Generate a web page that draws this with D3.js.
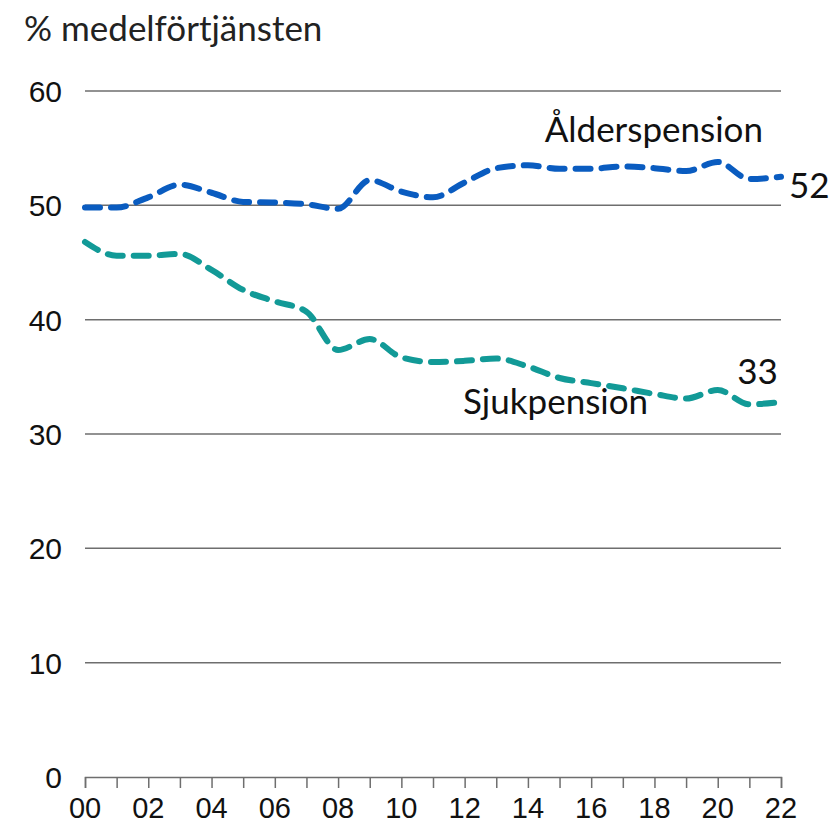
<!DOCTYPE html>
<html>
<head>
<meta charset="utf-8">
<script src="https://cdn.jsdelivr.net/npm/d3@7"></script>
<style>
  body { margin: 0; background: #fff; }
  svg { display: block; }
</style>
</head>
<body>
<svg id="chart" width="831" height="832"></svg>
<script>
const years = d3.range(2000, 2023);
const alder = [49.8, 49.8, 50.7, 51.8, 51.1, 50.3, 50.25, 50.1, 49.7, 52.2, 51.2, 50.7, 52.0, 53.25, 53.5, 53.2, 53.2, 53.4, 53.25, 53.0, 53.8, 52.3, 52.5];
const sjuk = [46.8, 45.6, 45.6, 45.75, 44.35, 42.6, 41.6, 40.7, 37.35, 38.3, 36.7, 36.3, 36.4, 36.6, 35.9, 34.9, 34.45, 34.0, 33.5, 33.1, 33.85, 32.6, 32.8];
const endLabels = ['52', '33'];
const seriesNames = ['Ålderspension', 'Sjukpension'];
const yTicks = [0, 10, 20, 30, 40, 50, 60];
const xLabelYears = d3.range(2000, 2023, 2);

const svg = d3.select('#chart');
const margin = { top: 91, right: 50, bottom: 55, left: 85 };
const width = 831, height = 832;
const innerWidth = width - margin.left - margin.right;
const innerHeight = height - margin.top - margin.bottom;

const x = d3.scaleLinear().domain([2000, 2022]).range([0, innerWidth]);
const y = d3.scaleLinear().domain([0, 60]).range([innerHeight, 0]);

const g = svg.append('g').attr('transform', `translate(${margin.left},${margin.top})`);

// title
svg.append('text')
  .attr('x', 24).attr('y', 41)
  .attr('font-family', 'Lato, sans-serif')
  .attr('font-size', 35)
  .attr('fill', '#222')
  .text('% medelförtjänsten');

// gridlines
g.selectAll('.grid')
  .data(yTicks.filter(d => d > 0))
  .enter().append('line')
  .attr('x1', 0).attr('x2', innerWidth)
  .attr('y1', d => y(d)).attr('y2', d => y(d))
  .attr('stroke', '#6e6e6e').attr('stroke-width', 1.5);

// y labels
g.selectAll('.ylab')
  .data(yTicks)
  .enter().append('text')
  .attr('x', -23).attr('y', d => y(d) + 11)
  .attr('text-anchor', 'end')
  .attr('font-family', 'Liberation Sans, Arial, sans-serif')
  .attr('font-size', 30)
  .attr('fill', '#111')
  .text(d => d);

// x axis (tick marks every year, labels every other year)
const xAxis = g.append('g')
  .attr('transform', `translate(0,${innerHeight})`)
  .call(d3.axisBottom(x).tickValues(years).tickSize(11).tickFormat(''));
xAxis.selectAll('.tick text').remove();
xAxis.select('.domain').attr('stroke', '#6e6e6e').attr('stroke-width', 1.5);
xAxis.selectAll('.tick line').attr('stroke', '#6e6e6e').attr('stroke-width', 1.5);

g.selectAll('.xlab')
  .data(xLabelYears)
  .enter().append('text')
  .attr('x', d => x(d)).attr('y', innerHeight + 41)
  .attr('text-anchor', 'middle')
  .attr('font-family', '"Liberation Sans Narrow", "Liberation Sans", sans-serif')
  .attr('font-size', 29)
  .attr('fill', '#111')
  .text(d => String(d % 100).padStart(2, '0'));

const line = d3.line().x((d, i) => x(years[i])).y(d => y(d)).curve(d3.curveMonotoneX);

const series = [
  { values: alder, color: '#0a5cc0' },
  { values: sjuk, color: '#129a97' }
];

g.selectAll('.series')
  .data(series)
  .enter().append('path')
  .attr('d', d => line(d.values))
  .attr('fill', 'none')
  .attr('stroke', d => d.color)
  .attr('stroke-width', 6)
  .attr('stroke-dasharray', '15 11')
  .attr('stroke-linecap', 'round');

const labelFont = 'Lato, "Open Sans", sans-serif';
const label = (txt, xv, yv, anchor) => g.append('text')
  .attr('x', x(xv)).attr('y', y(yv))
  .attr('text-anchor', anchor)
  .attr('font-family', labelFont).attr('font-size', 35).attr('fill', '#111')
  .text(txt);

label(seriesNames[0], 2021.43, 55.55, 'end');
label(endLabels[0], 2022.25, 50.6, 'start');
label(seriesNames[1], 2017.8, 31.75, 'end');
label(endLabels[1], 2021.9, 34.35, 'end');
</script>
</body>
</html>
